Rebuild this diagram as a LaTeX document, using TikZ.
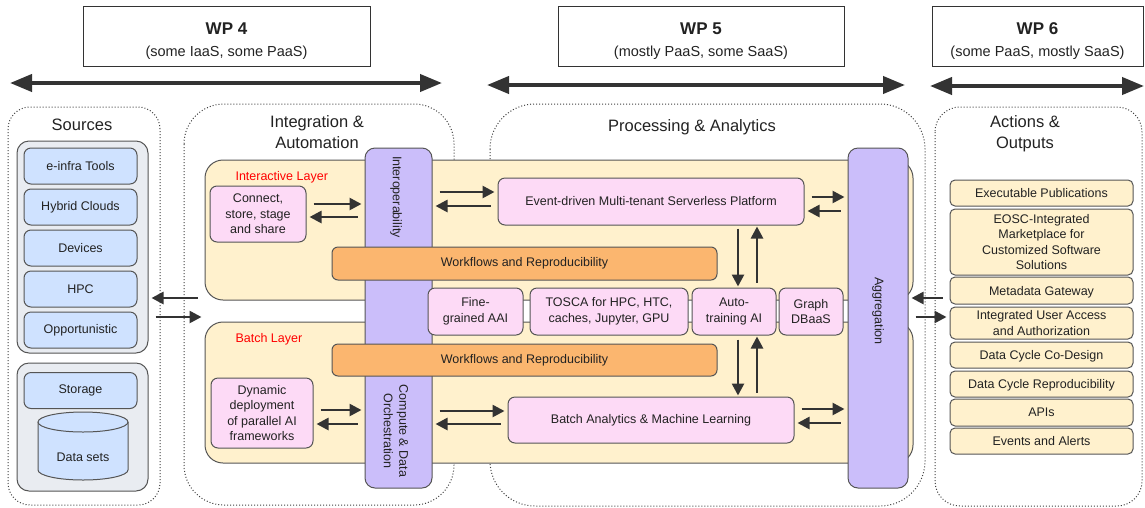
\documentclass[tikz,border=0pt]{standalone}
\usepackage{fontspec}
\setmainfont{Liberation Sans}
\usetikzlibrary{arrows.meta}
\definecolor{ink}{HTML}{222222}
\definecolor{edge}{HTML}{555555}
\definecolor{arrowc}{HTML}{333333}
\definecolor{beige}{HTML}{FFF1CD}
\definecolor{pinkc}{HTML}{FDDAF6}
\definecolor{purplec}{HTML}{CBBEFA}
\definecolor{orangec}{HTML}{FBB66F}
\definecolor{srcblue}{HTML}{CFE2FF}
\definecolor{srcgray}{HTML}{E9ECF1}
\newcommand\fsz[2]{\fontsize{#1}{#2}\selectfont}

\begin{document}
\begin{tikzpicture}[x=1pt, y=-1pt,
  box/.style={draw=edge, line width=1pt, rounded corners=7pt, inner sep=0pt,
    align=center, text=ink, font=\fsz{12.5}{15.5}},
  srcbox/.style={box, fill=srcblue, minimum width=113pt, minimum height=36pt},
  graybox/.style={box, fill=srcgray, rounded corners=12pt, minimum width=131pt},
  pinkbox/.style={box, fill=pinkc},
  outbox/.style={box, fill=beige, rounded corners=5pt, minimum width=183pt, text depth=0pt},
  wfbar/.style={box, fill=orangec, rounded corners=6pt, minimum width=385pt, minimum height=33pt},
  layerbox/.style={box, fill=beige, rounded corners=18pt, minimum width=708pt},
  purplebar/.style={box, fill=purplec, rounded corners=10pt, minimum height=340pt},
  wpbox/.style={draw=black!80, line width=1pt, inner sep=0pt, align=center,
    minimum height=60pt, text=ink, font=\fsz{14.5}{22}},
  wparr/.style={draw=arrowc, line width=4pt,
    arrows={Triangle[length=22pt,width=17pt]-Triangle[length=22pt,width=17pt]}},
  arr/.style={draw=arrowc, line width=2.6pt, arrows={-Triangle[length=12pt,width=12pt]},
    shorten <=7pt, shorten >=3pt},
  dotgroup/.style={draw=black!75, dotted, line width=1pt},
  grptitle/.style={font=\fsz{16.5}{21}, text=ink, align=center},
  layertag/.style={anchor=west, text=red, font=\fsz{12.5}{15}},
  vtext/.style={rotate=-90, align=center, text=ink, font=\fsz{12.5}{15.5}},
]
  \useasboundingbox (0,0) rectangle (1145,507);

  % work packages
  \node[wpbox, minimum width=287pt] (wpfour) at (226.5,36) {\rule{0pt}{21pt}{\bfseries\fsz{17}{22}WP 4}\\(some IaaS, some PaaS)};
  \node[wpbox, minimum width=286pt] (wpfive) at (701,36) {\rule{0pt}{21pt}{\bfseries\fsz{17}{22}WP 5}\\(mostly PaaS, some SaaS)};
  \node[wpbox, minimum width=211pt] (wpsix) at (1037.5,36) {\rule{0pt}{21pt}{\bfseries\fsz{17}{22}WP 6}\\(some PaaS, mostly SaaS)};
  \coordinate (wp4L) at (10,83);
  \coordinate (wp4R) at (442,83);
  \coordinate (wp5L) at (487,85);
  \coordinate (wp5R) at (905,85);
  \coordinate (wp6L) at (930,86);
  \coordinate (wp6R) at (1144,86);
  \draw[wparr] (wp4L) -- (wp4R);
  \draw[wparr] (wp5L) -- (wp5R);
  \draw[wparr] (wp6L) -- (wp6R);

  % dotted groups
  \draw[dotgroup, rounded corners=22pt] (8,107) rectangle (160,505);
  \draw[dotgroup, rounded corners=40pt] (184,104) rectangle (454,505);
  \draw[dotgroup, rounded corners=45pt] (490,104) rectangle (925,506);
  \draw[dotgroup, rounded corners=25pt] (935,107) rectangle (1142,506);
  \node[grptitle] (srcT) at (82,125) {Sources};
  \node[grptitle] (intT) at (317,132) {Integration \&\\Automation};
  \node[grptitle] (procT) at (692,127) {Processing \& Analytics};
  \node[grptitle] (actT) at (1025,134) {Actions \&\\Outputs};

  % sources
  \node[graybox, minimum height=212pt] (gone) at (82.5,247) {};
  \node[graybox, minimum height=128pt] (gtwo) at (82.5,427) {};
  \foreach \nm/\txt/\yy in {einfra/e-infra Tools/166, hybrid/Hybrid Clouds/207,
      devices/Devices/248, hpc/HPC/289, opp/Opportunistic/330}
    \node[srcbox] (\nm) at (80.5,\yy) {\txt};
  \node[srcbox] (storage) at (80.5,390.5) {Storage};
  \draw[draw=edge, line width=1pt, fill=srcblue] (38,422) -- (38,470)
    arc[start angle=180, end angle=0, x radius=45, y radius=10] -- (128,422);
  \draw[draw=edge, line width=1pt, fill=srcblue] (83,422) ellipse [x radius=45, y radius=10];
  \node[text=ink, font=\fsz{12.5}{15.5}] (datasets) at (83,457) {Data sets};

  % layers and bars
  \node[layerbox, minimum height=140pt] (ilayer) at (559,230) {};
  \node[layerbox, minimum height=141pt] (blayer) at (559,392.5) {};
  \node[layertag] (itag) at (232,177) {Interactive Layer};
  \node[layertag] (btag) at (232,339) {Batch Layer};
  \node[purplebar, minimum width=67pt] (interop) at (398.5,318) {};
  \node[purplebar, minimum width=60pt] (agg) at (878,318) {};
  \node[vtext] (interopT) at (396,197) {Interoperability};
  \node[vtext] (orchT) at (396,431) {Compute \& Data\\Orchestration};
  \node[vtext] (aggT) at (878,311) {Aggregation};
  \node[wfbar] (wfone) at (524.5,263.5) {Workflows and Reproducibility};
  \node[wfbar, minimum height=32pt] (wftwo) at (524.5,360) {Workflows and Reproducibility};

  % processing boxes
  \node[pinkbox, minimum width=96pt, minimum height=56pt] (connect) at (258,214) {Connect,\\store, stage\\and share};
  \node[pinkbox, minimum width=102pt, minimum height=70pt] (dynamic) at (262,413) {Dynamic\\deployment\\of parallel AI\\frameworks};
  \node[pinkbox, minimum width=306pt, minimum height=47pt] (event) at (651,201.5) {Event-driven Multi-tenant Serverless Platform};
  \node[pinkbox, minimum width=286pt, minimum height=46pt] (batch) at (651,420) {Batch Analytics \& Machine Learning};
  \node[pinkbox, minimum width=95pt, minimum height=47pt] (aai) at (475.5,311.5) {Fine-\\grained AAI};
  \node[pinkbox, minimum width=158pt, minimum height=47pt] (tosca) at (609,311.5) {TOSCA for HPC, HTC,\\caches, Jupyter, GPU};
  \node[pinkbox, minimum width=84pt, minimum height=47pt] (auto) at (734,311.5) {Auto-\\training AI};
  \node[pinkbox, minimum width=64pt, minimum height=47pt] (graph) at (811,311.5) {Graph\\DBaaS};

  % outputs
  \foreach \nm/\txt/\yy/\hh in {pub/{Executable Publications}/193/26,
      eosc/{EOSC-Integrated\\Marketplace for\\Customized Software\\Solutions}/242/66,
      meta/{Metadata Gateway}/290.5/27,
      iua/{Integrated User Access\\and Authorization}/323/32,
      codes/{Data Cycle Co-Design}/355/26,
      repro/{Data Cycle Reproducibility}/384/26,
      apis/{APIs}/412.5/27,
      alerts/{Events and Alerts}/441/26}
    \node[outbox, minimum height=\hh pt] (\nm) at (1041.5,\yy) {\txt};

  % connectors
  \foreach \a/\b/\y in {connect/interop/204, interop/event/192, event/agg/197,
      dynamic/interop/410, interop/batch/411, batch/agg/409, gone/blayer/317, agg/iua/317}
    \draw[arr] (\a.east |- 0,\y) -- (\b.west |- 0,\y);
  \foreach \a/\b/\y in {interop/connect/217, event/interop/206, agg/event/211,
      interop/dynamic/424, batch/interop/424, agg/batch/423, ilayer/gone/298, meta/agg/298}
    \draw[arr] (\a.west |- 0,\y) -- (\b.east |- 0,\y);
  \draw[arr, shorten <=3pt, shorten >=1pt] (738,0 |- event.south) -- (738,0 |- auto.north);
  \draw[arr, shorten <=5pt, shorten >=1pt] (757,0 |- auto.north) -- (757,0 |- event.south);
  \draw[arr, shorten <=4pt, shorten >=1pt] (738,0 |- auto.south) -- (738,0 |- batch.north);
  \draw[arr, shorten <=4pt, shorten >=1pt] (757,0 |- batch.north) -- (757,0 |- auto.south);
\end{tikzpicture}
\end{document}
